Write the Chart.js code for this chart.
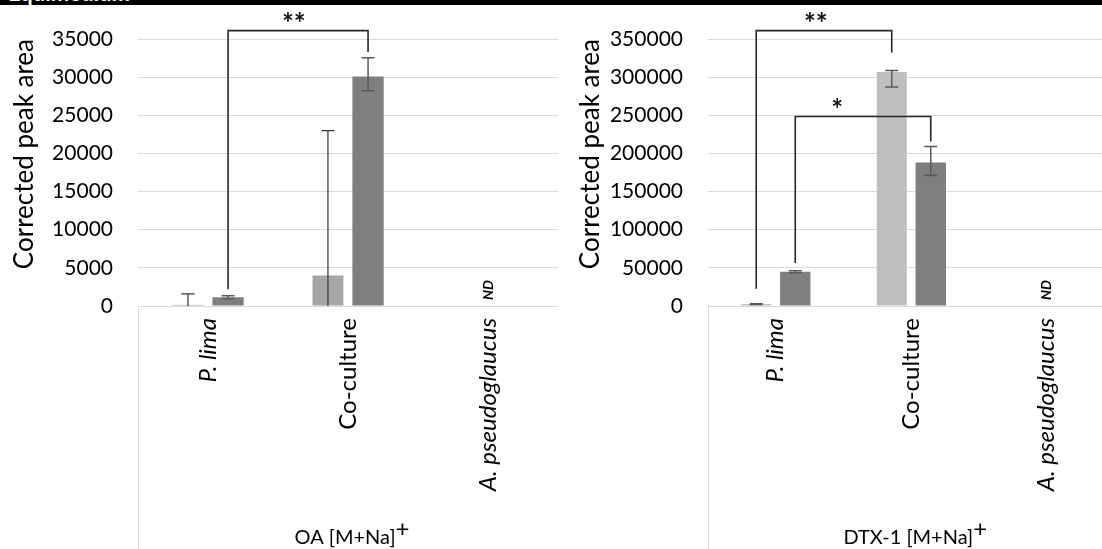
<!DOCTYPE html>
<html><head><meta charset="utf-8">
<script src="https://cdn.jsdelivr.net/npm/chart.js@4.4.0/dist/chart.umd.min.js"></script>
<style>
html,body{margin:0;padding:0;background:#fff;overflow:hidden;width:1102px;height:549px;position:relative}
#bar{position:absolute;left:0;top:0;width:1102px;height:5px;background:#000;overflow:hidden;z-index:5}
#bar span{position:absolute;left:8px;top:-21px;color:#fff;font:bold 22px Lato;white-space:nowrap}
.wrap{position:absolute;top:0;height:549px}
#w1{left:0;width:560px}
#w2{left:560px;width:560px}
</style></head><body>
<div class="wrap" id="w1"><canvas id="c1"></canvas></div>
<div class="wrap" id="w2"><canvas id="c2"></canvas></div>
<div id="bar"><span>Equimedium</span></div>
<script>
// ---------- data ----------
const categories = ['P. lima', 'Co-culture', 'A. pseudoglaucus'];
const ndCategory = 2;

// OA [M+Na]+
const oaTitle = 'OA [M+Na]';
const oaMax = 35000, oaStep = 5000;
const oaLight = [150, 4000, null];
const oaLightErrUp = [1450, 19000, null];
const oaLightErrDown = [150, 4000, null];
const oaDark = [1150, 30100, null];
const oaDarkErrUp = [200, 2450, null];
const oaDarkErrDown = [200, 1900, null];
// brackets: [fromCat, fromDs, toCat, toDs, topValue, leftEndValue, rightEndValue, label, labelFrac]
const oaBrackets = [[0, 1, 1, 1, 36100, 2200, 33300, '**', 0.47]];

// DTX-1 [M+Na]+
const dtxTitle = 'DTX-1 [M+Na]';
const dtxMax = 350000, dtxStep = 50000;
const dtxLight = [2500, 306700, null];
const dtxLightErrUp = [400, 2100, null];
const dtxLightErrDown = [400, 19700, null];
const dtxDark = [45000, 188000, null];
const dtxDarkErrUp = [1300, 21000, null];
const dtxDarkErrDown = [1300, 17000, null];
const dtxBrackets = [
  [0, 0, 1, 0, 361000, 22700, 332400, '**', 0.44],
  [0, 1, 1, 1, 248400, 56400, 215600, '*', 0.31]
];

const FONT = 'Lato';

const extrasPlugin = {
  id: 'extras',
  afterDatasetsDraw(chart, args, opts) {
    const ctx = chart.ctx;
    const y = chart.scales.y, x = chart.scales.x;
    const ca = chart.chartArea;
    // error bars
    ctx.save();
    ctx.beginPath(); ctx.rect(ca.left, 0, ca.right - ca.left, ca.bottom); ctx.clip();
    opts.errors.forEach((e, ds) => {
      const meta = chart.getDatasetMeta(ds);
      meta.data.forEach((bar, i) => {
        const v = chart.data.datasets[ds].data[i];
        if (v == null) return;
        const top = y.getPixelForValue(v + e.up[i]);
        const bot = y.getPixelForValue(v - e.down[i]);
        ctx.strokeStyle = e.color; ctx.lineWidth = e.width;
        ctx.beginPath();
        ctx.moveTo(bar.x, top); ctx.lineTo(bar.x, bot);
        ctx.moveTo(bar.x - 6.5, top); ctx.lineTo(bar.x + 6.5, top);
        if (v - e.down[i] > 0) { ctx.moveTo(bar.x - 6.5, bot); ctx.lineTo(bar.x + 6.5, bot); }
        ctx.stroke();
      });
    });
    ctx.restore();
    // brackets
    ctx.save();
    ctx.strokeStyle = '#262626'; ctx.lineWidth = 1.6;
    opts.brackets.forEach(b => {
      const x1 = chart.getDatasetMeta(b[1]).data[b[0]].x;
      const x2 = chart.getDatasetMeta(b[3]).data[b[2]].x;
      const yt = y.getPixelForValue(b[4]);
      ctx.beginPath();
      ctx.moveTo(x1, y.getPixelForValue(b[5])); ctx.lineTo(x1, yt);
      ctx.lineTo(x2, yt); ctx.lineTo(x2, y.getPixelForValue(b[6]));
      ctx.stroke();
      ctx.fillStyle = '#111';
      ctx.font = 'bold 28px ' + FONT;
      ctx.textAlign = 'center'; ctx.textBaseline = 'middle';
      ctx.fillText(b[7], x1 + (x2 - x1) * b[8], yt - 7);
    });
    ctx.restore();
    // ND label
    ctx.save();
    const nx = x.getPixelForValue(ndCategory);
    ctx.translate(nx, ca.bottom - 16);
    ctx.rotate(-Math.PI / 2);
    ctx.font = 'italic bold 14px ' + FONT;
    ctx.fillStyle = '#000';
    ctx.textAlign = 'center'; ctx.textBaseline = 'middle';
    ctx.fillText('ND', 0, 0);
    ctx.restore();
    // x axis title with superscript plus
    ctx.save();
    ctx.fillStyle = '#000';
    const main = opts.xTitle;
    ctx.font = '20px ' + FONT;
    const w1 = ctx.measureText(main).width;
    ctx.font = '24px ' + FONT;
    const w2 = ctx.measureText('+').width;
    const cx = (ca.left + ca.right) / 2 + 4;
    const sx = cx - (w1 + w2) / 2;
    ctx.textAlign = 'left'; ctx.textBaseline = 'alphabetic';
    ctx.font = '20px ' + FONT;
    ctx.fillText(main, sx, chart.height - 5);
    ctx.font = '24px ' + FONT;
    ctx.fillText('+', sx + w1, chart.height - 12);
    ctx.restore();
    // category box
    ctx.save();
    ctx.strokeStyle = '#d9d9d9'; ctx.lineWidth = 1;
    ctx.beginPath();
    ctx.moveTo(Math.round(ca.left) + 0.5, chart.height + 2);
    ctx.lineTo(Math.round(ca.left) + 0.5, Math.round(ca.bottom) + 0.5);
    ctx.lineTo(ca.right, Math.round(ca.bottom) + 0.5);
    ctx.stroke();
    ctx.restore();
  }
};

function makeChart(id, cfg) {
  return new Chart(document.getElementById(id), {
    type: 'bar',
    data: {
      labels: categories,
      datasets: [
        { label: 'Series 1', data: cfg.light, backgroundColor: cfg.lightColor, categoryPercentage: cfg.catPct, barPercentage: 0.77 },
        { label: 'Series 2', data: cfg.dark, backgroundColor: '#7f7f7f', categoryPercentage: cfg.catPct, barPercentage: 0.78 }
      ]
    },
    options: {
      responsive: true, maintainAspectRatio: false, animation: false,
      layout: { padding: { top: 39, left: 0, right: cfg.padRight, bottom: 0 } },
      plugins: {
        legend: { display: false }, tooltip: { enabled: false },
        extras: { errors: cfg.errors, brackets: cfg.brackets, xTitle: cfg.xTitle }
      },
      scales: {
        x: {
          grid: { display: false, drawTicks: false },
          border: { display: false },
          ticks: {
            minRotation: 90, maxRotation: 90, padding: 12, color: '#000',
            font: (c) => ({ family: FONT, size: 24, style: c.index === 1 ? 'normal' : 'italic' })
          },
          title: { display: false },
          afterFit: (s) => { s.height = 243; }
        },
        y: {
          min: 0, max: cfg.max,
          grid: { color: '#d9d9d9', drawTicks: false, lineWidth: 1 },
          border: { display: false },
          ticks: { stepSize: cfg.step, padding: 25, color: '#000', font: { family: FONT, size: 21 },
                   callback: (v) => String(v) },
          title: { display: true, text: 'Corrected peak area', align: 'end', color: '#000', font: { family: FONT, size: 26 }, padding: { top: cfg.titlePad, bottom: 0 } },
          afterFit: (s) => { s.width = cfg.yWidth; }
        }
      }
    },
    plugins: [extrasPlugin]
  });
}

makeChart('c1', {
  light: oaLight, dark: oaDark, lightColor: '#a6a6a6', catPct: 0.573,
  max: oaMax, step: oaStep, xTitle: oaTitle, yWidth: 138, titlePad: 9, padRight: 2,
  errors: [
    { up: oaLightErrUp, down: oaLightErrDown, color: '#333333', width: 1.2 },
    { up: oaDarkErrUp, down: oaDarkErrDown, color: '#595959', width: 1.5 }
  ],
  brackets: oaBrackets
});
makeChart('c2', {
  light: dtxLight, dark: dtxDark, lightColor: '#bfbfbf', catPct: 0.576,
  max: dtxMax, step: dtxStep, xTitle: dtxTitle, yWidth: 148, titlePad: 15, padRight: 5.5,
  errors: [
    { up: dtxLightErrUp, down: dtxLightErrDown, color: '#595959', width: 1.5 },
    { up: dtxDarkErrUp, down: dtxDarkErrDown, color: '#595959', width: 1.5 }
  ],
  brackets: dtxBrackets
});
</script>
</body></html>
